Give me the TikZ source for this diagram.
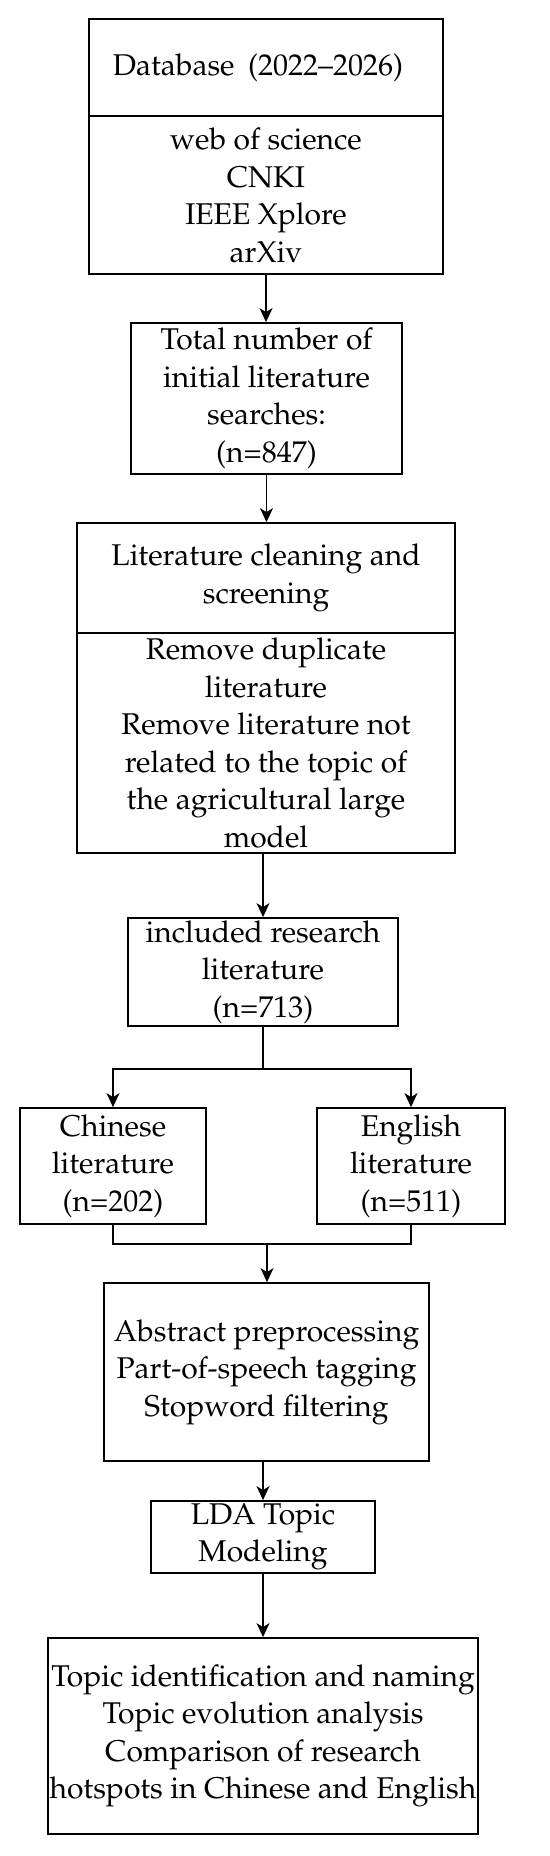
\documentclass[tikz,border=0pt]{standalone}
\usepackage[T1]{fontenc}
\usepackage{mathpazo}
\usepackage{tikz}
\usetikzlibrary{arrows.meta}

\tikzset{
	box/.style={shape=rectangle, draw=black, line width=0.9pt, align=center, inner sep=0pt,
		font=\fontsize{15}{18.75}\selectfont},
	arr/.style={-{Stealth[length=7pt,width=6.5pt,inset=2pt]}, line width=0.8pt},
	lin/.style={-, line width=0.8pt}
}

\begin{document}
\begin{tikzpicture}[x=0.5pt,y=-0.5pt]
	
	\useasboundingbox (0,0) rectangle (550,1856);
	
	\node[box, minimum width=177pt, minimum height=48.5pt] (dbhead) at (266, 67.5)   {\hspace*{-8pt}\raisebox{-3pt}{Database\hspace{0.45em}(2022--2026)}};
	\node[box, minimum width=177pt, minimum height=79pt]   (dblist) at (266, 195)    {web of science\\CNKI\\IEEE Xplore\\arXiv};
	\node[box, minimum width=135.5pt, minimum height=75.5pt] (search) at (266.5, 398.5) {Total number of\\initial literature\\searches:\\(n=847)};
	\node[box, minimum width=189pt, minimum height=55pt]   (cleanhead) at (266, 578) {Literature cleaning and\\screening};
	\node[box, minimum width=189pt, minimum height=110pt]  (cleanbody) at (266, 743) {Remove duplicate\\literature\\Remove literature not\\related to the topic of\\the agricultural large\\model};
	\node[box, minimum width=135pt, minimum height=54pt]   (incl) at (263, 972)      {included research\\literature\\(n=713)};
	\node[box, minimum width=93pt, minimum height=58pt]    (chn) at (113, 1166)      {Chinese\\literature\\(n=202)};
	\node[box, minimum width=94pt, minimum height=58pt]    (eng) at (411, 1166)      {English\\literature\\(n=511)};
	\node[box, minimum width=162.5pt, minimum height=89pt] (prep) at (266.5, 1372)   {Abstract preprocessing\\Part-of-speech tagging\\Stopword filtering};
	\node[box, minimum width=112pt, minimum height=36pt]   (lda) at (263, 1537)      {LDA Topic\\Modeling};
	\node[box, minimum width=215pt, minimum height=98pt]   (res) at (263, 1736)      {Topic identification and naming\\Topic evolution analysis\\Comparison of research\\hotspots in Chinese and English};
	
	\coordinate (split) at (263, 1069);
	\coordinate (join) at (267, 1244);
	
	\path[arr] (dblist.south) edge (dblist.south |- search.north);
	\path[arr] (search.south) edge (search.south |- cleanhead.north);
	\path[arr] (cleanbody.south -| incl.north) edge (incl.north);
	\path[lin] (incl.south) edge (split);
	\draw[arr] (split) -| (chn.north);
	\draw[arr] (split) -| (eng.north);
	\draw[lin] (chn.south) |- (join);
	\draw[lin] (eng.south) |- (join);
	\path[arr] (join) edge (join |- prep.north);
	\path[arr] (prep.south -| lda.north) edge (lda.north);
	\path[arr] (lda.south) edge (lda.south |- res.north);
	
\end{tikzpicture}
\end{document}
